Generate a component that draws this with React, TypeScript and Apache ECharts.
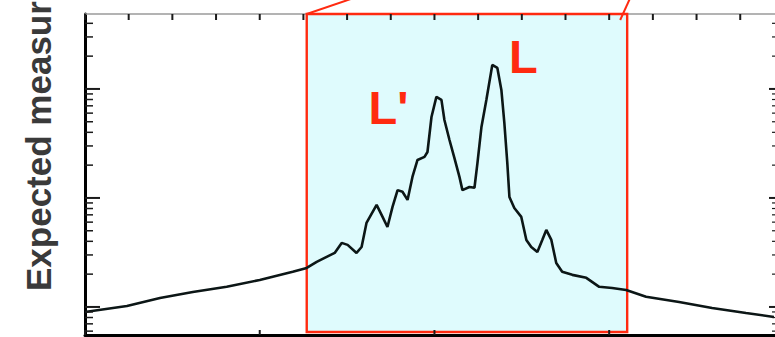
import React, { useEffect, useRef } from "react";
import * as echarts from "echarts";

// Curve (x in axis units, y on log scale)
const curveX = [
  0, 0.24, 0.429, 0.617, 0.811, 1.0, 1.189, 1.269, 1.326, 1.383, 1.429, 1.469, 1.503, 1.554,
  1.583, 1.611, 1.669, 1.703, 1.731, 1.76, 1.789, 1.817, 1.846, 1.874, 1.903, 1.943, 1.96,
  1.983, 2.011, 2.04, 2.057, 2.086, 2.114, 2.143, 2.16, 2.2, 2.229, 2.246, 2.269, 2.297,
  2.331, 2.36, 2.383, 2.4, 2.417, 2.429, 2.457, 2.497, 2.526, 2.554, 2.589, 2.617, 2.64,
  2.669, 2.697, 2.731, 2.789, 2.869, 2.943, 3.017, 3.097, 3.211, 3.4, 3.589, 3.783, 3.943,
];
const curveY = [
  0.9, 1.02, 1.21, 1.37, 1.53, 1.77, 2.1, 2.28, 2.59, 2.88, 3.13, 3.87, 3.71, 3.13,
  3.55, 5.9, 8.63, 6.7, 5.42, 8.27, 11.8, 11.4, 9.59, 15.6, 22.3, 23.8, 26.4,
  55.3, 84.5, 79.3, 51.9, 34.0, 23.3, 15.6, 11.8, 12.6, 12.4, 20.9, 44.8, 79.3,
  166, 156, 97.9, 48.8, 20.9, 10.2, 8.09, 6.7, 4.12, 3.55, 3.2, 4.12, 5.09,
  4.12, 2.53, 2.1, 1.97, 1.85, 1.53, 1.49, 1.43, 1.24, 1.11, 0.98, 0.88, 0.81,
];

const highlightX = [1.269, 3.103];
const highlightY = [0.59, 487];

const yMajorTicks = [1, 10, 100];
const yMinorTicks = [0.6, 0.7, 0.8, 0.9, 2, 3, 4, 5, 6, 7, 8, 9, 20, 30, 40, 50, 60, 70, 80, 90, 200, 300, 400];
const xMajorTicks = [0, 1, 2, 3];
const xMinorTicks = [0.25, 0.5, 0.75, 1.25, 1.5, 1.75, 2.25, 2.5, 2.75, 3.25, 3.5, 3.75];

const peakLabels = ["L", "L'"];
const peakLabelX = [2.509, 1.737];
const peakLabelY = [197, 67];

const yAxisTitle = "Expected measurement";

const X_MIN = 0;
const X_MAX = 3.949;
const Y_MIN = 0.553;
const Y_MAX = 487;

const RED = "#ff2a10";

export default function App() {
  const ref = useRef<HTMLDivElement>(null);

  useEffect(() => {
    if (!ref.current) return;
    const chart = echarts.init(ref.current, null, { renderer: "svg" });

    // tick rows: [side, value, length, width]
    const tickRows: number[][] = [];
    yMajorTicks.forEach((v) => tickRows.push([0, v, 15, 2]));
    yMinorTicks.forEach((v) => tickRows.push([0, v, 8, 1.5]));
    yMajorTicks.forEach((v) => tickRows.push([1, v, 6, 2]));
    yMinorTicks.forEach((v) => tickRows.push([1, v, 3, 1.2]));
    xMajorTicks.concat(xMinorTicks).forEach((v) => tickRows.push([2, v, 6, 2]));
    xMajorTicks.forEach((v) => tickRows.push([3, v, 5, 2]));

    const option: any = {
      animation: false,
      grid: { left: 85, top: 14, width: 691, height: 321, containLabel: false },
      xAxis: [
        {
          type: "value", min: X_MIN, max: X_MAX, position: "bottom",
          axisLine: { show: true, onZero: false, lineStyle: { color: "#000", width: 3 } },
          axisTick: { show: false }, axisLabel: { show: false }, splitLine: { show: false },
        },
        {
          type: "value", min: X_MIN, max: X_MAX, position: "top",
          axisLine: { show: true, onZero: false, lineStyle: { color: "#9a9a9a", width: 1.5 } },
          axisTick: { show: false }, axisLabel: { show: false }, splitLine: { show: false },
        },
      ],
      yAxis: [
        {
          type: "log", logBase: 10, min: Y_MIN, max: Y_MAX, position: "left",
          axisLine: { show: true, onZero: false, lineStyle: { color: "#000", width: 3 } },
          axisTick: { show: false }, axisLabel: { show: false }, splitLine: { show: false },
          minorTick: { show: false }, minorSplitLine: { show: false },
        },
      ],
      series: [
        {
          type: "custom",
          z: 1,
          silent: true,
          encode: { x: [0, 1], y: [2, 3] },
          data: [[highlightX[0], highlightX[1], highlightY[0], highlightY[1]]],
          renderItem: (params: any, api: any) => {
            const p0 = api.coord([api.value(0), api.value(3)]);
            const p1 = api.coord([api.value(1), api.value(2)]);
            return {
              type: "rect",
              shape: { x: p0[0], y: p0[1], width: p1[0] - p0[0], height: p1[1] - p0[1] },
              style: { fill: "#dffbfd", stroke: RED, lineWidth: 2.4 },
            };
          },
        },
        {
          type: "line",
          z: 3,
          silent: true,
          showSymbol: false,
          symbol: "none",
          data: curveX.map((x, i) => [x, curveY[i]]),
          lineStyle: { color: "#0c1616", width: 2.6 },
        },
        {
          type: "custom",
          z: 4,
          silent: true,
          encode: { x: 2, y: 3 },
          data: tickRows,
          renderItem: (params: any, api: any) => {
            const side = api.value(0);
            const v = api.value(1);
            const len = api.value(2);
            const w = api.value(3);
            let x1 = 0, y1 = 0, x2 = 0, y2 = 0;
            if (side === 0) {
              const p = api.coord([X_MIN, v]);
              x1 = p[0]; y1 = p[1]; x2 = p[0] + len; y2 = p[1];
            } else if (side === 1) {
              const p = api.coord([X_MAX, v]);
              x1 = p[0]; y1 = p[1]; x2 = p[0] - len; y2 = p[1];
            } else if (side === 2) {
              const p = api.coord([v, Y_MAX]);
              x1 = p[0]; y1 = p[1]; x2 = p[0]; y2 = p[1] + len;
            } else {
              const p = api.coord([v, Y_MIN]);
              x1 = p[0]; y1 = p[1]; x2 = p[0]; y2 = p[1] - len;
            }
            return {
              type: "line",
              shape: { x1, y1, x2, y2 },
              style: { stroke: "#1a1a1a", lineWidth: w },
            };
          },
        },
      ],
    };
    chart.setOption(option);

    const tl = chart.convertToPixel({ gridIndex: 0 }, [highlightX[0], Y_MAX]) as number[];
    const tr = chart.convertToPixel({ gridIndex: 0 }, [highlightX[1], Y_MAX]) as number[];

    const labelGraphics = peakLabels.map((t, i) => {
      const p = chart.convertToPixel({ gridIndex: 0 }, [peakLabelX[i], peakLabelY[i]]) as number[];
      return {
        type: "text",
        x: p[0],
        y: p[1],
        silent: true,
        z: 20,
        style: {
          text: t,
          fill: RED,
          font: 'bold 47px "Liberation Sans"',
          fontSize: 47,
          fontWeight: "bold",
          fontFamily: "Liberation Sans",
          align: "center",
          textAlign: "center",
          verticalAlign: "middle",
          textVerticalAlign: "middle",
        },
      };
    });

    chart.setOption({
      graphic: [
        {
          type: "text",
          x: 38.5,
          y: 291,
          rotation: Math.PI / 2,
          silent: true,
          style: {
            text: yAxisTitle,
            fill: "#3a3a3a",
            font: 'bold 35px "Liberation Sans"',
            fontSize: 35,
            fontWeight: "bold",
            fontFamily: "Liberation Sans",
            align: "left",
            textAlign: "left",
            verticalAlign: "middle",
            textVerticalAlign: "middle",
          },
        },
        {
          type: "line",
          silent: true,
          shape: { x1: tl[0], y1: tl[1], x2: tl[0] + 47, y2: tl[1] - 16 },
          style: { stroke: RED, lineWidth: 2 },
          z: 10,
        },
        {
          type: "line",
          silent: true,
          shape: { x1: tr[0] - 7, y1: tr[1] + 6, x2: tr[0] + 3, y2: tr[1] - 16 },
          style: { stroke: RED, lineWidth: 2 },
          z: 10,
        },
        ...labelGraphics,
      ],
    });

    return () => chart.dispose();
  }, []);

  return (
    <div
      ref={ref}
      style={{ position: "fixed", left: 0, top: 0, width: 775, height: 337, background: "#fff" }}
    />
  );
}
